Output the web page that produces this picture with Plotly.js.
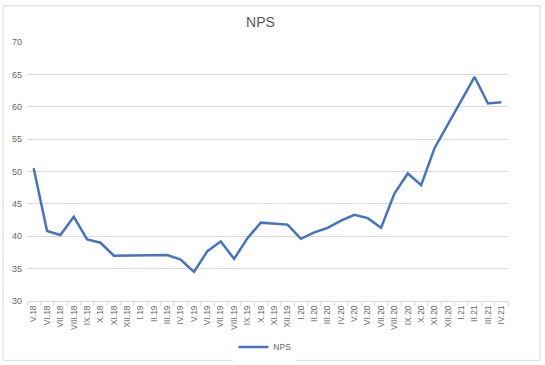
<!DOCTYPE html>
<html>
<head>
<meta charset="utf-8">
<script src="https://cdn.plot.ly/plotly-3.0.1.min.js"></script>
<style>html,body{margin:0;padding:0;background:#fff;}#chart{width:545px;height:365px;}</style>
</head>
<body>
<div id="chart"></div>
<script>
const months = ["V.18","VI.18","VII.18","VIII.18","IX.18","X.18","XI.18","XII.18",
  "I.19","II.19","III.19","IV.19","V.19","VI.19","VII.19","VIII.19","IX.19","X.19","XI.19","XII.19",
  "I.20","II.20","III.20","IV.20","V.20","VI.20","VII.20","VIII.20","IX.20","X.20","XI.20","XII.20",
  "I.21","II.21","III.21","IV.21"];
const nps = [50.5,40.8,40.2,43.0,39.5,39.0,37.0,37.0,
  37.1,37.1,37.1,36.4,34.5,37.7,39.2,36.5,39.7,42.1,42.0,41.8,
  39.6,40.6,41.3,42.4,43.3,42.8,41.3,46.6,49.7,47.9,53.6,57.2,
  61.0,64.6,60.5,60.7];
const seriesName = "NPS";
const chartTitle = "NPS";

const font = "Liberation Sans, Arial, sans-serif";
const data = [{
  type: "scatter", mode: "lines", x: months, y: nps, name: seriesName,
  line: {color: "#4472C4", width: 2.5}
}];
const layout = {
  width: 545, height: 365,
  margin: {l: 27, r: 37, t: 41.5, b: 63.5},
  paper_bgcolor: "#fff", plot_bgcolor: "#fff",
  font: {family: font, color: "#666666", size: 9},
  title: {text: chartTitle, font: {family: font, size: 14, color: "#595959"}, x: 0.478, xanchor: "center", y: 0.94, yanchor: "middle"},
  xaxis: {
    type: "category", range: [-0.5, 35.5], tickangle: -90, automargin: false,
    tickson: "boundaries", ticks: "outside", ticklen: 4, tickcolor: "#d9d9d9",
    showline: true, linecolor: "#d9d9d9", linewidth: 1, showgrid: false,
    tickfont: {size: 8.5, color: "#666666"}, fixedrange: true
  },
  yaxis: {
    range: [30, 70], dtick: 5, showgrid: true, gridcolor: "#d9d9d9", gridwidth: 1, automargin: false,
    zeroline: false, showline: false, ticks: "", ticklabelstandoff: 4,
    tickfont: {size: 9, color: "#666666"}, fixedrange: true
  },
  showlegend: true,
  legend: {orientation: "h", xref: "container", yref: "container", x: 0.486, xanchor: "center", y: 0.049, yanchor: "middle",
    itemwidth: 30, font: {size: 8.5, color: "#666666"}},
  shapes: [{type: "rect", xref: "paper", yref: "paper", x0: -0.0499, x1: 1.0665, y0: -0.229, y1: 1.14,
    line: {color: "#d9d9d9", width: 1}}]
};
Plotly.newPlot("chart", data, layout, {displayModeBar: false, staticPlot: true});
</script>
</body>
</html>
